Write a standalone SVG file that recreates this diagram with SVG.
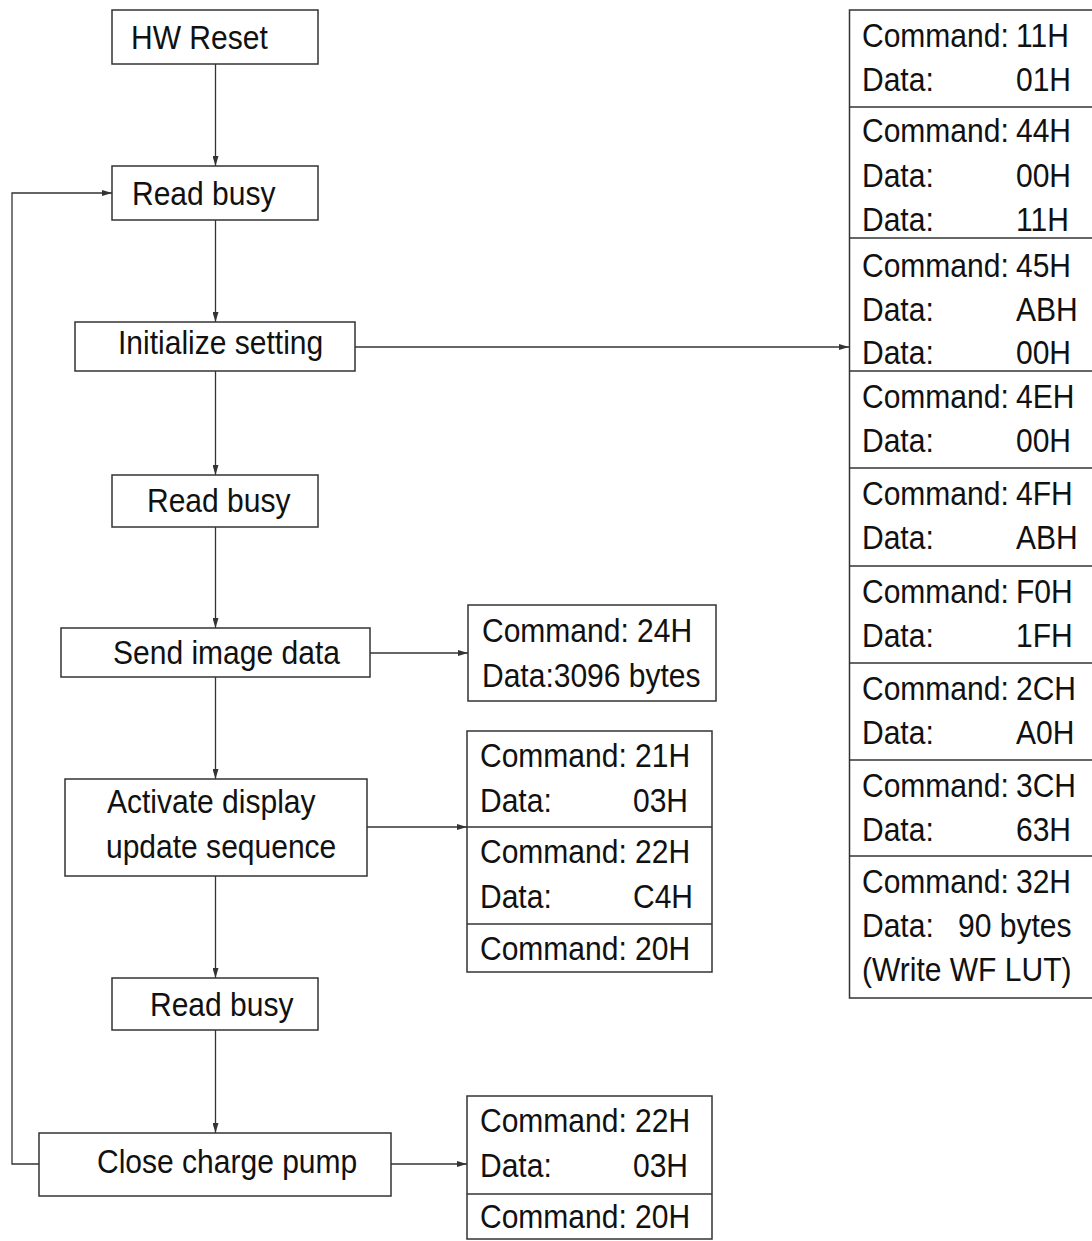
<svg xmlns="http://www.w3.org/2000/svg" width="1092" height="1241" viewBox="0 0 1092 1241">
<style>
text{font-family:"Liberation Sans",Arial,sans-serif;font-size:33px;fill:#111;transform-box:fill-box;transform-origin:0 0;transform:scaleX(0.91)}
.box{fill:#fff;stroke:#333;stroke-width:1.5}
.div{stroke:#333;stroke-width:1.5;fill:none}
.c{stroke:#333;stroke-width:1.3;fill:none}
</style>
<defs>
<marker id="ah" markerUnits="userSpaceOnUse" markerWidth="11" markerHeight="6" refX="10" refY="3" orient="auto">
<path d="M0,0 L10,3 L0,6 z" fill="#333"/>
</marker>
</defs>
<rect width="1092" height="1241" fill="#fff"/>
<g id="connectors">
<line class="c" x1="215.5" y1="64" x2="215.5" y2="166" marker-end="url(#ah)"/>
<line class="c" x1="215.5" y1="220" x2="215.5" y2="322" marker-end="url(#ah)"/>
<line class="c" x1="215.5" y1="371" x2="215.5" y2="475" marker-end="url(#ah)"/>
<line class="c" x1="215.5" y1="527" x2="215.5" y2="628" marker-end="url(#ah)"/>
<line class="c" x1="215.5" y1="677" x2="215.5" y2="779" marker-end="url(#ah)"/>
<line class="c" x1="215.5" y1="876" x2="215.5" y2="978" marker-end="url(#ah)"/>
<line class="c" x1="215.5" y1="1030" x2="215.5" y2="1133" marker-end="url(#ah)"/>
<polyline class="c" points="39,1164 12,1164 12,193 112,193" marker-end="url(#ah)"/>
<line class="c" x1="355" y1="347" x2="849" y2="347" marker-end="url(#ah)"/>
<line class="c" x1="370" y1="653" x2="468" y2="653" marker-end="url(#ah)"/>
<line class="c" x1="367" y1="827" x2="467" y2="827" marker-end="url(#ah)"/>
<line class="c" x1="391" y1="1164" x2="467" y2="1164" marker-end="url(#ah)"/>
</g>
<g id="hw-reset">
<rect class="box" x="112" y="10" width="206" height="54"/>
<text x="131" y="49">HW Reset</text>
</g>
<g id="read-busy-1">
<rect class="box" x="112" y="166" width="206" height="54"/>
<text x="132" y="205">Read busy</text>
</g>
<g id="initialize-setting">
<rect class="box" x="75" y="322" width="280" height="49"/>
<text x="118" y="354">Initialize setting</text>
</g>
<g id="read-busy-2">
<rect class="box" x="112" y="475" width="206" height="52"/>
<text x="147" y="512">Read busy</text>
</g>
<g id="send-image-data">
<rect class="box" x="61" y="628" width="309" height="49"/>
<text x="113" y="664">Send image data</text>
</g>
<g id="activate-display">
<rect class="box" x="65" y="779" width="302" height="97"/>
<text x="107" y="813">Activate display</text>
<text x="106" y="858">update sequence</text>
</g>
<g id="read-busy-3">
<rect class="box" x="112" y="978" width="206" height="52"/>
<text x="150" y="1016">Read busy</text>
</g>
<g id="close-charge-pump">
<rect class="box" x="39" y="1133" width="352" height="63"/>
<text x="97" y="1173">Close charge pump</text>
</g>
<g id="cmd-24h">
<rect class="box" x="468" y="605" width="248" height="96"/>
<text x="482" y="642">Command: 24H</text>
<text x="482" y="687">Data:3096 bytes</text>
</g>
<g id="cmd-21h-22h-20h">
<rect class="box" x="467" y="731" width="245" height="241"/>
<line class="div" x1="467" y1="827" x2="712" y2="827"/>
<line class="div" x1="467" y1="924" x2="712" y2="924"/>
<text x="480" y="767">Command: 21H</text>
<text x="480" y="812">Data:</text><text x="633" y="812">03H</text>
<text x="480" y="863">Command: 22H</text>
<text x="480" y="908">Data:</text><text x="633" y="908">C4H</text>
<text x="480" y="960">Command: 20H</text>
</g>
<g id="cmd-22h-20h">
<rect class="box" x="467" y="1096" width="245" height="143"/>
<line class="div" x1="467" y1="1194" x2="712" y2="1194"/>
<text x="480" y="1132">Command: 22H</text>
<text x="480" y="1177">Data:</text><text x="633" y="1177">03H</text>
<text x="480" y="1228">Command: 20H</text>
</g>
<g id="init-table">
<rect class="box" x="849.5" y="10" width="250" height="988"/>
<line class="div" x1="849.5" y1="107" x2="1092" y2="107"/>
<line class="div" x1="849.5" y1="238" x2="1092" y2="238"/>
<line class="div" x1="849.5" y1="371" x2="1092" y2="371"/>
<line class="div" x1="849.5" y1="468" x2="1092" y2="468"/>
<line class="div" x1="849.5" y1="566" x2="1092" y2="566"/>
<line class="div" x1="849.5" y1="663" x2="1092" y2="663"/>
<line class="div" x1="849.5" y1="760" x2="1092" y2="760"/>
<line class="div" x1="849.5" y1="856" x2="1092" y2="856"/>
<text x="862" y="47">Command:</text><text x="1016" y="47">11H</text>
<text x="862" y="91">Data:</text><text x="1016" y="91">01H</text>
<text x="862" y="142">Command:</text><text x="1016" y="142">44H</text>
<text x="862" y="187">Data:</text><text x="1016" y="187">00H</text>
<text x="862" y="231">Data:</text><text x="1016" y="231">11H</text>
<text x="862" y="277">Command:</text><text x="1016" y="277">45H</text>
<text x="862" y="321">Data:</text><text x="1016" y="321">ABH</text>
<text x="862" y="364">Data:</text><text x="1016" y="364">00H</text>
<text x="862" y="408">Command:</text><text x="1016" y="408">4EH</text>
<text x="862" y="452">Data:</text><text x="1016" y="452">00H</text>
<text x="862" y="505">Command:</text><text x="1016" y="505">4FH</text>
<text x="862" y="549">Data:</text><text x="1016" y="549">ABH</text>
<text x="862" y="603">Command:</text><text x="1016" y="603">F0H</text>
<text x="862" y="647">Data:</text><text x="1016" y="647">1FH</text>
<text x="862" y="700">Command:</text><text x="1016" y="700">2CH</text>
<text x="862" y="744">Data:</text><text x="1016" y="744">A0H</text>
<text x="862" y="797">Command:</text><text x="1016" y="797">3CH</text>
<text x="862" y="841">Data:</text><text x="1016" y="841">63H</text>
<text x="862" y="893">Command:</text><text x="1016" y="893">32H</text>
<text x="862" y="937">Data:</text><text x="958" y="937">90 bytes</text>
<text x="862" y="981">(Write WF LUT)</text>
</g>
</svg>
